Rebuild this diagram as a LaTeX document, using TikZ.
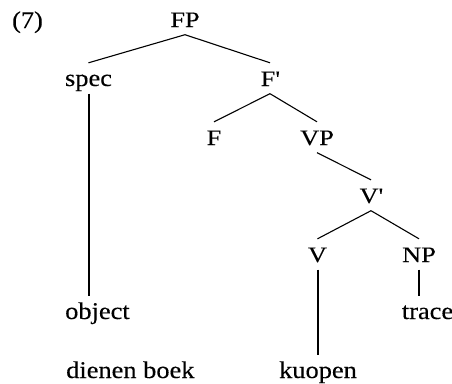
\documentclass[tikz,border=0pt]{standalone}
\usepackage{fontspec}
\setmainfont{Liberation Serif}
\newfontfamily\wordfont[FakeStretch=1.1, FakeBold=0.25]{Liberation Serif}
\newfontfamily\catfont[FakeStretch=1.2, FakeBold=0.25]{Liberation Serif}
\usepackage{tikz}
\usetikzlibrary{positioning, calc}
\tikzstyle{branch} = [line width=1.1pt]
\tikzstyle{stem} = [line width=2pt]

\begin{document}
\begin{tikzpicture}[x=1pt, y=-1pt, every node/.style={inner xsep=0pt, inner ysep=3pt, text height=20pt, text depth=4.5pt, anchor=base}]
\useasboundingbox (0,0) rectangle (452,383);
\tikzset{cat/.style={font=\catfont\fontsize{22}{26}\selectfont}, word/.style={font=\wordfont\fontsize{24}{28}\selectfont}}
% example number
\node (num) [word] at (27.5,28) {(7)};
% tree nodes
\node (fp) [cat] at (185,27) {FP};
\node (spec) [word] at (88.5,86) {spec};
\node (fbar) [cat] at (270,86) {F\textquotesingle};
\node (f) [cat] at (214,145) {F};
\node (vp) [cat] at (317,145) {VP};
\node (vbar) [cat] at (371,203) {V\textquotesingle};
\node (v) [cat] at (317.5,262) {V};
\node (np) [cat] at (419,262) {NP};
\node (object) [word, anchor=base west] at (65,319) {object};
\node (trace) [word] at (427.5,319) {trace};
\node (dienen) [word, anchor=base west] at (66,378) {dienen boek};
\node (kuopen) [word] at (318,378) {kuopen};

% branches
\draw [branch] (fp.south) -- (spec.north);
\draw [branch] (fp.south) -- (fbar.north);
\draw [branch] (fbar.south) -- (f.north);
\draw [branch] (fbar.south) -- (vp.north);
\draw [branch] (vp.south) -- (vbar.north);
\draw [branch] (vbar.south) -- (v.north);
\draw [branch] (vbar.south) -- (np.north);
% lexical stems
\draw [stem] (spec.south) -- (spec.south |- object.north);
\draw [stem] (v.south) -- (v.south |- kuopen.north);
\draw [stem] (np.south) -- (np.south |- trace.north);
\end{tikzpicture}
\end{document}
